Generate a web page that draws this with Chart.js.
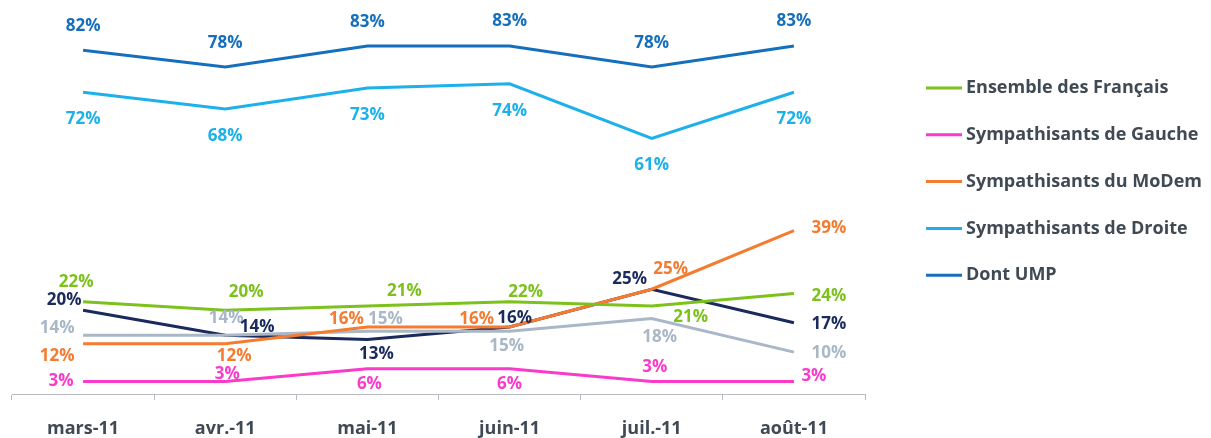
<!DOCTYPE html>
<html>
<head>
<meta charset="utf-8">
<script src="https://cdn.jsdelivr.net/npm/chart.js@4"></script>
<style>
    html, body { margin: 0; padding: 0; background: #ffffff; }
    #wrap { width: 1211px; height: 438px; position: relative; }
</style>
</head>
<body>
<div id="wrap"><canvas id="lineChart"></canvas></div>
<script>
//////////////////////* Data *////////////////////////////
let months = ["mars-11", "avr.-11", "mai-11", "juin-11", "juil.-11", "août-11"];

let ensembleFr = [22, 20, 21, 22, 21, 24];
let gauche = [3, 3, 6, 6, 3, 3];
let modem = [12, 12, 16, 16, 25, 39];
let droite = [72, 68, 73, 74, 61, 72];
let ump = [82, 78, 83, 83, 78, 83];
let navySeries = [20, 14, 13, 16, 25, 17];
let greySeries = [14, 14, 15, 15, 18, 10];

//////////////////////* Styles *////////////////////////////
let textColor = "#404a55";
let axisColor = "#b8bcc2";
let labelFont = "bold 17px 'Open Sans'";
let legendFont = "bold 18px 'Open Sans'";

// label offsets (dx, dy) from each point, in pixels
let offsetsEnsemble = [[-7, -20], [21, -18], [37, -15], [16, -10], [39, 11], [35, 3]];
let offsetsGauche = [[-22, 0], [2, -7], [2, 15], [0, 15], [3, -14], [20, -5]];
let offsetsModem = [[-26, 12], [9, 12], [-21, -8], [-33, -8], [19, -20], [35, -2]];
let offsetsDroite = [[0, 27], [0, 27], [0, 27], [0, 27], [0, 27], [0, 27]];
let offsetsUmp = [[0, -24], [0, -24], [0, -24], [0, -25], [0, -24], [0, -25]];
let offsetsNavy = [[-19, -10], [32, -8], [9, 15], [5, -9], [-22, -10], [35, 1]];
let offsetsGrey = [[-26, -7], [1, -17], [18, -12], [-3, 15], [8, 19], [35, 1]];

function lineSet(label, values, color, offsets, inLegend) {
    return {
        label: label,
        data: values,
        borderColor: color,
        backgroundColor: color,
        borderWidth: 3,
        pointRadius: 0,
        tension: 0,
        labelOffsets: offsets,
        inLegend: inLegend,
    };
}

//////////////////////* Plugins *////////////////////////////
let pointLabels = {
    id: "pointLabels",
    afterDatasetsDraw(chart) {
        let ctx = chart.ctx;
        ctx.save();
        ctx.font = labelFont;
        ctx.textAlign = "center";
        ctx.textBaseline = "middle";
        chart.data.datasets.forEach(function (ds, i) {
            let meta = chart.getDatasetMeta(i);
            ctx.fillStyle = ds.borderColor;
            meta.data.forEach(function (pt, j) {
                let off = ds.labelOffsets[j];
                ctx.fillText(ds.data[j] + "%", pt.x + off[0], pt.y + off[1]);
            });
        });
        ctx.restore();
    },
};

let sideLegend = {
    id: "sideLegend",
    afterDraw(chart) {
        let ctx = chart.ctx;
        ctx.save();
        ctx.font = legendFont;
        ctx.textBaseline = "middle";
        ctx.textAlign = "left";
        let y = 88;
        chart.data.datasets.forEach(function (ds) {
            if (!ds.inLegend) return;
            ctx.strokeStyle = ds.borderColor;
            ctx.lineWidth = 3;
            ctx.beginPath();
            ctx.moveTo(926, y);
            ctx.lineTo(962, y);
            ctx.stroke();
            ctx.fillStyle = textColor;
            ctx.fillText(ds.label, 966, y);
            y += 46.8;
        });
        ctx.restore();
    },
};

//////////////////////* Line Chart *////////////////////////////
function lineChart() {
    let ctx = document.getElementById("lineChart");
    let data = {
        labels: months,
        datasets: [
            lineSet("Ensemble des Français", ensembleFr, "#7cc11c", offsetsEnsemble, true),
            lineSet("Sympathisants de Gauche", gauche, "#fa3acb", offsetsGauche, true),
            lineSet("Sympathisants du MoDem", modem, "#f47b2f", offsetsModem, true),
            lineSet("Sympathisants de Droite", droite, "#1cb1ea", offsetsDroite, true),
            lineSet("Dont UMP", ump, "#166fbc", offsetsUmp, true),
            lineSet("", greySeries, "#a9b7c6", offsetsGrey, false),
            lineSet("", navySeries, "#1a2a5c", offsetsNavy, false),
        ],
    };
    let config = {
        type: "line",
        data: data,
        options: {
            responsive: true,
            maintainAspectRatio: false,
            animation: false,
            layout: {
                padding: { left: 12, right: 346, top: 0, bottom: 0 },
            },
            plugins: {
                legend: { display: false },
                tooltip: { enabled: false },
            },
            scales: {
                y: {
                    display: false,
                    min: 0,
                    max: 94,
                },
                x: {
                    offset: true,
                    afterFit: function (scale) {
                        scale.height = 44;
                    },
                    border: { display: true, color: axisColor, width: 1 },
                    grid: {
                        offset: true,
                        drawOnChartArea: false,
                        drawTicks: true,
                        tickLength: 6,
                        color: axisColor,
                    },
                    ticks: {
                        color: textColor,
                        padding: 18,
                        maxRotation: 0,
                        font: {
                            family: "'Open Sans'",
                            weight: "bold",
                            size: 18,
                        },
                    },
                },
            },
        },
        plugins: [pointLabels, sideLegend],
    };
    let chart = new Chart(ctx, config);
}

lineChart();
</script>
</body>
</html>
